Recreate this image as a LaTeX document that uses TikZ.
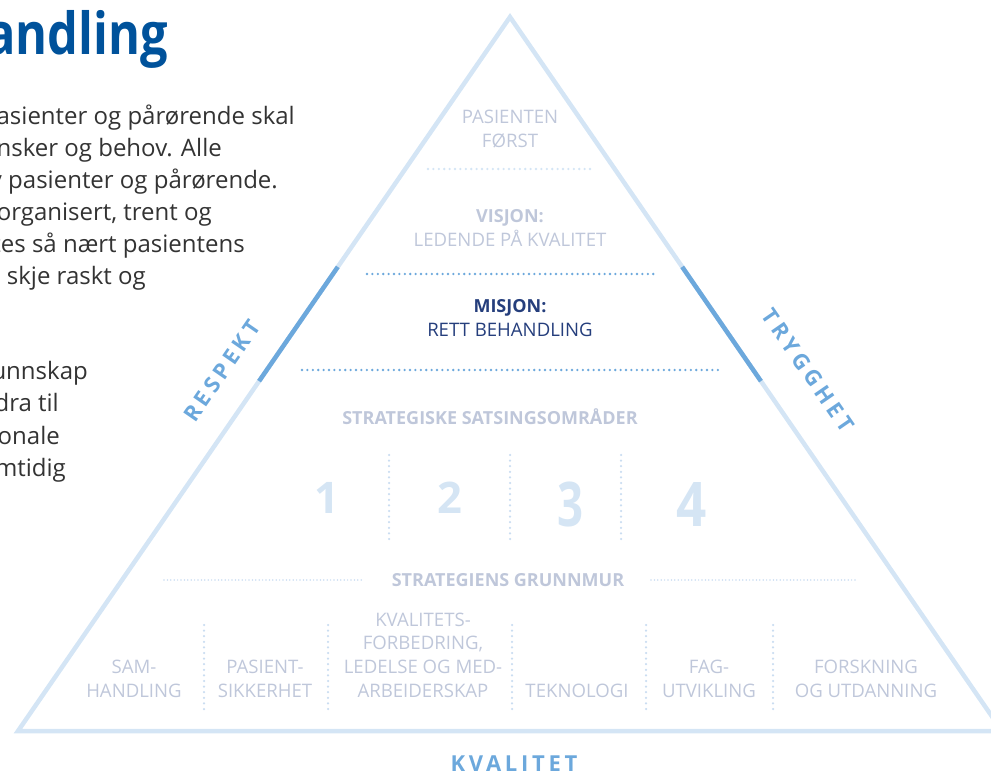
\documentclass[tikz,border=0pt]{standalone}
\usepackage{fontspec}
\setmainfont{Open Sans}
\usetikzlibrary{calc}
\definecolor{lightblue}{HTML}{D4E5F5}
\definecolor{sepblue}{HTML}{CADDF1}
\definecolor{midblue}{HTML}{6CA8DC}
\definecolor{pyrgray}{HTML}{BFC7DA}
\definecolor{navy}{HTML}{253E7C}
\definecolor{titleblue}{HTML}{00529B}
\definecolor{bodytext}{HTML}{333333}
\definecolor{numblue}{HTML}{D5E5F4}
\begin{document}
\begin{tikzpicture}[x=1pt,y=-1pt,
  tri/.style={draw=lightblue,line width=4.5pt,line join=miter},
  darkseg/.style={draw=midblue,line width=4.5pt,line cap=butt},
  dotblue/.style={draw=midblue,line width=2.6pt,line cap=round,dash pattern=on 0pt off 5.4pt},
  dotlight/.style={draw=lightblue,line width=2.6pt,line cap=round,dash pattern=on 0pt off 5.4pt},
  dotfine/.style={draw=sepblue,line width=1.7pt,line cap=round,dash pattern=on 0pt off 3.4pt},
  dotsep/.style={draw=sepblue,line width=2.5pt,line cap=round,dash pattern=on 0pt off 5.6pt},
  body/.style={font=\fontsize{24}{32}\selectfont,text=bodytext,inner sep=0pt,anchor=base east},
  pyr/.style={font=\fontsize{18.6}{24}\selectfont,text=pyrgray,inner sep=0pt,anchor=base},
  pyrbold/.style={font=\fontsize{18}{24}\selectfont\bfseries,text=pyrgray,inner sep=0pt,anchor=base},
  mis/.style={font=\fontsize{18.6}{24}\selectfont,text=navy,inner sep=0pt,anchor=base},
  misbold/.style={font=\fontsize{18}{24}\selectfont\bfseries,text=navy,inner sep=0pt,anchor=base},
  bignum/.style={font=\bfseries,text=numblue,inner sep=0pt,anchor=base},
  sidelabel/.style={font=\fontsize{22}{24}\selectfont\bfseries\addfontfeature{LetterSpace=19},text=midblue,inner sep=0pt,anchor=center},
]
\useasboundingbox (0,0) rectangle (991,775);
\clip (0,0) rectangle (991,775);

% title and body text (cut at the left edge)
\node[font=\fontsize{58}{60}\selectfont\bfseries,text=titleblue,inner sep=0pt,anchor=base east] (title) at (168,55) {\scalebox{0.84}[1]{andling}};
\node[body] (b1) at (295,125) {Pasienter og pårørende skal};
\node[body] (b2) at (222,157) {nsker og behov. Alle};
\node[body] (b3) at (278,189) {v pasienter og pårørende.};
\node[body] (b4) at (212,221) {organisert, trent og};
\node[body] (b5) at (245,253) {tes så nært pasientens};
\node[body] (b6) at (146,285) {e skje raskt og};
\node[body] (b7) at (88,380) {unnskap};
\node[body] (b8) at (59,412) {dra til};
\node[body] (b9) at (60,445) {onale};
\node[body] (b10) at (66,477) {mtidig};

% triangle
\coordinate (apex) at (510,17);
\coordinate (bl) at (18,731);
\coordinate (br) at (1002,731);
\draw[tri] (apex) -- (bl) -- (br) -- cycle;
\draw[darkseg] ($(apex)!0.350!(bl)$) -- ($(apex)!0.510!(bl)$);
\draw[darkseg] ($(apex)!0.350!(br)$) -- ($(apex)!0.510!(br)$);

% side labels
\node[sidelabel,rotate=55.4] (respekt) at (222,371) {RESPEKT};
\node[sidelabel,rotate=-55.4] (trygghet) at (808,370) {TRYGGHET};
\node[font=\fontsize{22}{24}\selectfont\bfseries\addfontfeature{LetterSpace=17},text=midblue,inner sep=0pt,anchor=base] (kvalitet) at (514,771) {KVALITET};

% top levels
\node[pyr] (pas1) at (510,124) {PASIENTEN};
\node[pyr] (pas2) at (510,148) {FØRST};
\coordinate (d1a) at (428,169); \coordinate (d1b) at (590,169);
\draw[dotlight] (d1a) -- (d1b);

\node[pyrbold] (vis1) at (510,223) {VISJON:};
\node[pyr] (vis2) at (510,247) {LEDENDE PÅ KVALITET};
\coordinate (d2a) at (367,274); \coordinate (d2b) at (655,274);
\draw[dotblue] (d2a) -- (d2b);

\node[misbold] (mis1) at (510,313) {MISJON:};
\node[mis] (mis2) at (510,337) {RETT BEHANDLING};
\coordinate (d3a) at (302,370); \coordinate (d3b) at (718,370);
\draw[dotblue] (d3a) -- (d3b);

% strategic areas
\node[pyrbold] (strat) at (490,425) {STRATEGISKE SATSINGSOMRÅDER};
\node[bignum,font=\fontsize{43.5}{48}\selectfont\bfseries] (n1) at (327,513) {1};
\node[bignum,font=\fontsize{43.5}{48}\selectfont\bfseries] (n2) at (450,513) {2};
\node[bignum,font=\fontsize{61.6}{64}\selectfont\bfseries] (n3) at (571,526) {\scalebox{0.74}[1]{3}};
\node[bignum,font=\fontsize{61.6}{64}\selectfont\bfseries] (n4) at (692,526) {\scalebox{0.86}[1]{4}};
\foreach \x [count=\i] in {389,510,621}{
  \coordinate (sa\i) at (\x,455); \coordinate (sb\i) at (\x,540);
  \draw[dotsep] (sa\i) -- (sb\i);
}

% foundation
\node[pyrbold] (grunn) at (508,586) {STRATEGIENS GRUNNMUR};
\coordinate (g1a) at (164,580); \coordinate (g1b) at (363,580);
\coordinate (g2a) at (651,580); \coordinate (g2b) at (857,580);
\draw[dotfine] (g1a) -- (g1b);
\draw[dotfine] (g2a) -- (g2b);

\node[pyr] (f1a) at (134,673) {SAM-};
\node[pyr] (f1b) at (134,697) {HANDLING};
\node[pyr] (f2a) at (265,673) {PASIENT-};
\node[pyr] (f2b) at (265,697) {SIKKERHET};
\node[pyr] (f3a) at (423,626) {KVALITETS-};
\node[pyr] (f3b) at (423,649) {FORBEDRING,};
\node[pyr] (f3c) at (423,673) {LEDELSE OG MED-};
\node[pyr] (f3d) at (423,697) {ARBEIDERSKAP};
\node[pyr] (f4) at (577,697) {TEKNOLOGI};
\node[pyr] (f5a) at (709,673) {FAG-};
\node[pyr] (f5b) at (709,697) {UTVIKLING};
\node[pyr] (f6a) at (866,673) {FORSKNING};
\node[pyr] (f6b) at (866,697) {OG UTDANNING};
\foreach \x [count=\i] in {204,328,512,646,773}{
  \coordinate (fa\i) at (\x,625); \coordinate (fb\i) at (\x,709);
  \draw[dotsep] (fa\i) -- (fb\i);
}
\end{tikzpicture}
\end{document}
